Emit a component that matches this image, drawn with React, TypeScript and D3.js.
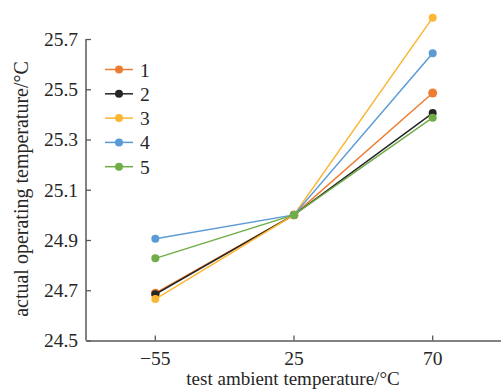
import React, { useEffect, useRef } from 'react';
import * as d3 from 'd3';

const categories = ['−55', '25', '70'];
const seriesNames = ['1', '2', '3', '4', '5'];
const colors = ['#ED7D31', '#262626', '#FBB733', '#5B9BD5', '#70AD47'];
const s1 = [24.688, 25.0, 25.485];
const s2 = [24.684, 25.0, 25.405];
const s3 = [24.665, 25.0, 25.785];
const s4 = [24.905, 25.0, 25.643];
const s5 = [24.827, 25.0, 25.387];
const yTicks = [24.5, 24.7, 24.9, 25.1, 25.3, 25.5, 25.7];

const App = () => {
  const svgRef = useRef<SVGSVGElement>(null);

  useEffect(() => {
    const width = 501;
    const height = 390;
    const svg = d3.select(svgRef.current);
    svg.selectAll('*').remove();
    svg.attr('width', width).attr('height', height);

    const font = '"Liberation Serif", "Times New Roman", serif';
    const axisColor = '#595959';
    const series = [s1, s2, s3, s4, s5];

    const x = d3.scaleBand().domain(categories).range([86, 502]);
    const y = d3.scaleLinear().domain([24.5, 25.7]).range([340.5, 39]);

    // y axis, ticks inward
    const yAxis = svg.append('g')
      .attr('transform', 'translate(86,0)')
      .call(d3.axisRight(y).tickValues(yTicks).tickSize(5).tickFormat(d3.format('.1f')));
    yAxis.select('.domain').attr('stroke', axisColor).attr('stroke-width', 1.5).attr('d', `M0,${y(25.7)}V${y(24.5)}`);
    yAxis.selectAll('line').attr('stroke', axisColor).attr('stroke-width', 1.3);
    yAxis.selectAll('text')
      .attr('x', -8)
      .attr('text-anchor', 'end')
      .attr('fill', '#262626')
      .style('font-family', font)
      .style('font-size', '19.5px');

    // x axis, ticks upward
    const xAxis = svg.append('g')
      .attr('transform', `translate(0,${y(24.5)})`)
      .call(d3.axisTop(x).tickSize(5).tickSizeOuter(0));
    xAxis.select('.domain').attr('stroke', axisColor).attr('stroke-width', 1.5);
    xAxis.selectAll('line').attr('stroke', axisColor).attr('stroke-width', 1.3);
    xAxis.selectAll('text')
      .attr('y', 24)
      .attr('fill', '#262626')
      .style('font-family', font)
      .style('font-size', '19.5px');

    const line = d3.line<number>()
      .x((_, i) => (x(categories[i]) as number) + x.bandwidth() / 2)
      .y(d => y(d));

    series.forEach((vals, si) => {
      svg.append('path')
        .attr('d', line(vals))
        .attr('fill', 'none')
        .attr('stroke', colors[si])
        .attr('stroke-width', 1.5);
      svg.selectAll(null)
        .data(vals)
        .enter().append('circle')
        .attr('cx', (_, i) => (x(categories[i]) as number) + x.bandwidth() / 2)
        .attr('cy', d => y(d))
        .attr('r', si === 0 ? 4.5 : 4)
        .attr('fill', colors[si]);
    });

    // legend
    const legend = svg.append('g').attr('transform', 'translate(105,69.5)');
    seriesNames.forEach((name, i) => {
      const g = legend.append('g').attr('transform', `translate(0,${i * 24.3})`);
      g.append('line').attr('x1', 0).attr('x2', 28).attr('stroke', colors[i]).attr('stroke-width', 1.5);
      g.append('circle').attr('cx', 14).attr('r', 4).attr('fill', colors[i]);
      g.append('text')
        .attr('x', 35)
        .attr('y', 7)
        .attr('fill', '#262626')
        .style('font-family', font)
        .style('font-size', '19.5px')
        .text(name);
    });

    // axis titles
    svg.append('text')
      .attr('transform', 'translate(28,189) rotate(-90)')
      .attr('text-anchor', 'middle')
      .attr('fill', '#262626')
      .style('font-family', font)
      .style('font-size', '20px')
      .text('actual operating temperature/°C');

    svg.append('text')
      .attr('x', 293)
      .attr('y', 385)
      .attr('text-anchor', 'middle')
      .attr('fill', '#262626')
      .style('font-family', font)
      .style('font-size', '19px')
      .text('test ambient temperature/°C');
  }, []);

  return (
    <div style={{ position: 'absolute', left: 0, top: 0 }}>
      <svg ref={svgRef}></svg>
    </div>
  );
};

export default App;
